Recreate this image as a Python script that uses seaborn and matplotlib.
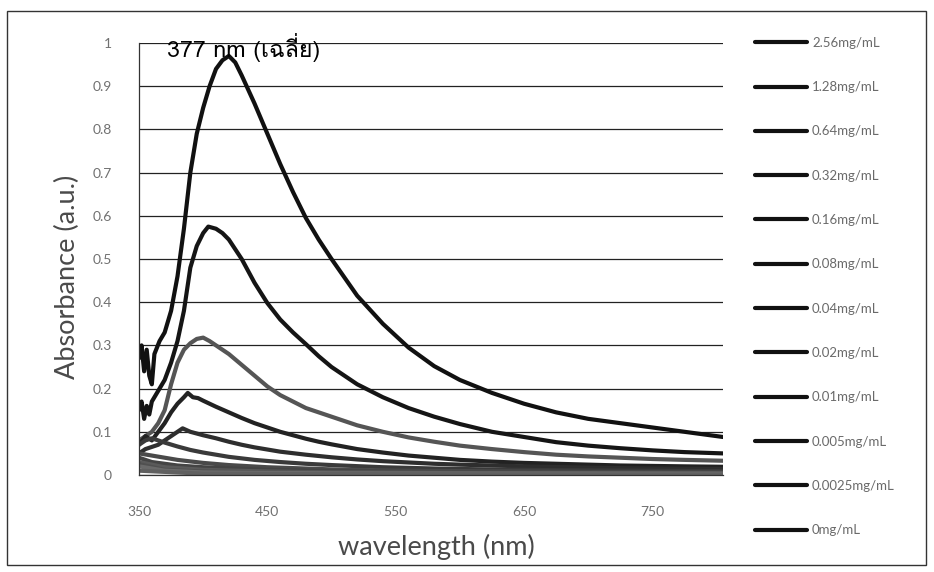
import matplotlib
matplotlib.use("Agg")
import matplotlib.pyplot as plt
from matplotlib import font_manager
from matplotlib.ft2font import FT2Font
import seaborn as sns
import pandas as pd

# ---------------- data ----------------
concentrations = ["2.56mg/mL", "1.28mg/mL", "0.64mg/mL", "0.32mg/mL", "0.16mg/mL", "0.08mg/mL",
                  "0.04mg/mL", "0.02mg/mL", "0.01mg/mL", "0.005mg/mL", "0.0025mg/mL", "0mg/mL"]

wl_256 = [350, 352, 354, 356, 358, 360, 362, 366, 370, 375, 380, 385, 390, 395, 400, 405, 410, 415, 420,
          425, 430, 440, 450, 460, 470, 480, 490, 500, 520, 540, 560, 580, 600, 625, 650, 675, 700, 725,
          750, 775, 805]
abs_256 = [0.27, 0.30, 0.24, 0.29, 0.23, 0.21, 0.28, 0.31, 0.33, 0.38, 0.46, 0.57, 0.70, 0.79, 0.85, 0.90,
           0.94, 0.96, 0.97, 0.955, 0.925, 0.86, 0.79, 0.72, 0.655, 0.595, 0.545, 0.50, 0.415, 0.35, 0.295,
           0.252, 0.22, 0.19, 0.165, 0.145, 0.13, 0.12, 0.11, 0.10, 0.088]

wl_128 = [350, 352, 354, 356, 358, 360, 362, 366, 370, 375, 380, 385, 390, 395, 400, 404, 410, 415, 420,
          430, 440, 450, 460, 470, 480, 490, 500, 520, 540, 560, 580, 600, 625, 650, 675, 700, 725, 750,
          775, 805]
abs_128 = [0.15, 0.17, 0.13, 0.16, 0.14, 0.17, 0.18, 0.20, 0.22, 0.26, 0.31, 0.38, 0.48, 0.53, 0.56, 0.575,
           0.57, 0.56, 0.545, 0.50, 0.445, 0.398, 0.36, 0.33, 0.303, 0.275, 0.25, 0.21, 0.18, 0.155, 0.135,
           0.118, 0.10, 0.088, 0.076, 0.068, 0.062, 0.057, 0.053, 0.05]

wl_064 = [350, 355, 360, 365, 370, 375, 380, 385, 390, 395, 400, 405, 410, 420, 430, 440, 450, 460, 470,
          480, 490, 500, 520, 540, 560, 580, 600, 625, 650, 675, 700, 725, 750, 775, 805]
abs_064 = [0.08, 0.09, 0.10, 0.12, 0.15, 0.21, 0.26, 0.29, 0.305, 0.315, 0.318, 0.31, 0.30, 0.28, 0.255,
           0.23, 0.205, 0.185, 0.17, 0.155, 0.145, 0.135, 0.115, 0.10, 0.087, 0.077, 0.068, 0.06, 0.053,
           0.047, 0.043, 0.04, 0.037, 0.035, 0.033]

wl_032 = [350, 355, 360, 365, 370, 375, 380, 385, 388, 392, 396, 400, 410, 420, 430, 440, 450, 460, 470,
          480, 490, 500, 520, 540, 560, 580, 600, 625, 650, 675, 700, 725, 750, 775, 805]
abs_032 = [0.07, 0.09, 0.08, 0.10, 0.12, 0.145, 0.165, 0.18, 0.19, 0.18, 0.178, 0.172, 0.158, 0.145, 0.132,
           0.12, 0.11, 0.10, 0.092, 0.084, 0.077, 0.071, 0.06, 0.052, 0.045, 0.04, 0.035, 0.031, 0.028,
           0.026, 0.024, 0.022, 0.021, 0.02, 0.019]

wl_016 = [350, 355, 360, 365, 370, 375, 380, 384, 390, 400, 410, 420, 430, 440, 450, 460, 480, 500, 520,
          540, 560, 580, 600, 650, 700, 750, 805]
abs_016 = [0.05, 0.06, 0.065, 0.07, 0.08, 0.09, 0.10, 0.108, 0.10, 0.092, 0.085, 0.077, 0.07, 0.064, 0.059,
           0.054, 0.047, 0.041, 0.036, 0.032, 0.029, 0.026, 0.024, 0.02, 0.017, 0.015, 0.014]

wl_008 = [350, 355, 360, 365, 370, 380, 390, 400, 420, 440, 460, 480, 500, 540, 580, 620, 680, 740, 805]
abs_008 = [0.07, 0.08, 0.085, 0.08, 0.075, 0.066, 0.058, 0.052, 0.042, 0.035, 0.03, 0.026, 0.023, 0.018,
           0.015, 0.013, 0.011, 0.01, 0.009]

wl_004 = [350, 360, 370, 380, 400, 420, 450, 500, 550, 600, 700, 805]
abs_004 = [0.05, 0.045, 0.04, 0.035, 0.028, 0.023, 0.018, 0.013, 0.01, 0.009, 0.007, 0.006]

wl_002 = [350, 360, 380, 400, 450, 500, 600, 700, 805]
abs_002 = [0.04, 0.03, 0.022, 0.018, 0.012, 0.009, 0.007, 0.006, 0.005]

wl_001 = [350, 370, 400, 450, 500, 600, 805]
abs_001 = [0.03, 0.018, 0.012, 0.008, 0.006, 0.005, 0.004]

wl_0005 = [350, 370, 400, 500, 805]
abs_0005 = [0.025, 0.012, 0.008, 0.005, 0.003]

wl_00025 = [350, 370, 400, 500, 805]
abs_00025 = [0.02, 0.01, 0.006, 0.004, 0.003]

wl_0 = [350, 400, 500, 805]
abs_0 = [0.01, 0.003, 0.002, 0.001]

x_ticks = [350, 450, 550, 650, 750]
y_ticks = [0, 0.1, 0.2, 0.3, 0.4, 0.5, 0.6, 0.7, 0.8, 0.9, 1.0]
y_tick_labels = ["0", "0.1", "0.2", "0.3", "0.4", "0.5", "0.6", "0.7", "0.8", "0.9", "1"]
annotation = "377 nm (เฉลี่ย)"

series = [(wl_256, abs_256), (wl_128, abs_128), (wl_064, abs_064), (wl_032, abs_032), (wl_016, abs_016),
          (wl_008, abs_008), (wl_004, abs_004), (wl_002, abs_002), (wl_001, abs_001), (wl_0005, abs_0005),
          (wl_00025, abs_00025), (wl_0, abs_0)]

rows = []
for name, (wl, ab) in zip(concentrations, series):
    for w, a in zip(wl, ab):
        rows.append({"wavelength": w, "absorbance": a, "conc": name})
df = pd.DataFrame(rows)

colors = ["#111111", "#151515", "#555555", "#222222", "#2e2e2e", "#3a3a3a",
          "#4a4a4a", "#444444", "#5a5a5a", "#505050", "#6a6a6a", "#606060"]
palette = dict(zip(concentrations, colors))

# ---------------- fonts ----------------
def find_thai_font():
    for f in font_manager.fontManager.ttflist:
        try:
            cm = FT2Font(f.fname).get_charmap()
        except Exception:
            continue
        if 0x0E40 in cm and 0x0E25 in cm:
            return f.name
    return None

thai = find_thai_font()

sns.set_theme(style="white")
plt.rcParams["font.family"] = ["Lato", "DejaVu Sans"]

fig = plt.figure(figsize=(9.34, 5.72), dpi=100)
ax = fig.add_axes([139 / 934, 1 - 475 / 572, (723 - 139) / 934, (475 - 43) / 572])

sns.lineplot(data=df, x="wavelength", y="absorbance", hue="conc", hue_order=concentrations,
             palette=palette, estimator=None, sort=True, linewidth=3.0, ax=ax, legend=True)

ax.set_xlim(350, 805)
ax.set_ylim(0, 1.0)
ax.set_xticks(x_ticks)
ax.set_xticklabels([str(t) for t in x_ticks], fontsize=10, color="#707070")
ax.set_yticks(y_ticks)
ax.set_yticklabels(y_tick_labels, fontsize=10, color="#707070")
ax.tick_params(axis="y", length=0, pad=19.5)
ax.tick_params(axis="x", length=0, pad=22)
ax.yaxis.grid(True, color="#222222", linewidth=0.9)
ax.xaxis.grid(False)
for s in ["top", "right"]:
    ax.spines[s].set_visible(False)
ax.spines["left"].set_color("#333333")
ax.spines["left"].set_linewidth(0.9)
ax.spines["bottom"].set_color("#333333")
ax.spines["bottom"].set_linewidth(0.9)
ax.set_xlabel("")
ax.set_ylabel("")

fig.text(436 / 934, 1 - 547 / 572, "wavelength (nm)", ha="center", va="center",
         fontsize=19.5, color="#4a4a4a")
fig.text(67 / 934, 1 - 277 / 572, "Absorbance (a.u.)", ha="center", va="center",
         rotation=90, fontsize=19.5, color="#4a4a4a")

fam = [thai, "DejaVu Sans"] if thai else ["DejaVu Sans"]
fig.text(167 / 934, 1 - 47 / 572, annotation, ha="left", va="center", fontsize=16.7,
         color="black", family=fam)

handles, labels = ax.get_legend_handles_labels()
if ax.legend_:
    ax.legend_.remove()
leg = fig.legend(handles, labels, loc="upper left", bbox_to_anchor=(755 / 934, 1 - 36.8 / 572),
                 frameon=False, fontsize=9.5, handlelength=3.94, handletextpad=0.38,
                 labelspacing=2.45, borderpad=0, borderaxespad=0)
for t in leg.get_texts():
    t.set_color("#6a6a6a")
for l in leg.get_lines():
    l.set_color("#111111")
    l.set_linewidth(3.0)

# outer frame of the chart
frame = plt.Rectangle((7 / 934, 1 - 565 / 572), (926 - 7) / 934, (565 - 11) / 572,
                      transform=fig.transFigure, fill=False, edgecolor="#333333", linewidth=1.0)
fig.patches.append(frame)

fig.savefig("out.png", dpi=100, facecolor="white")
